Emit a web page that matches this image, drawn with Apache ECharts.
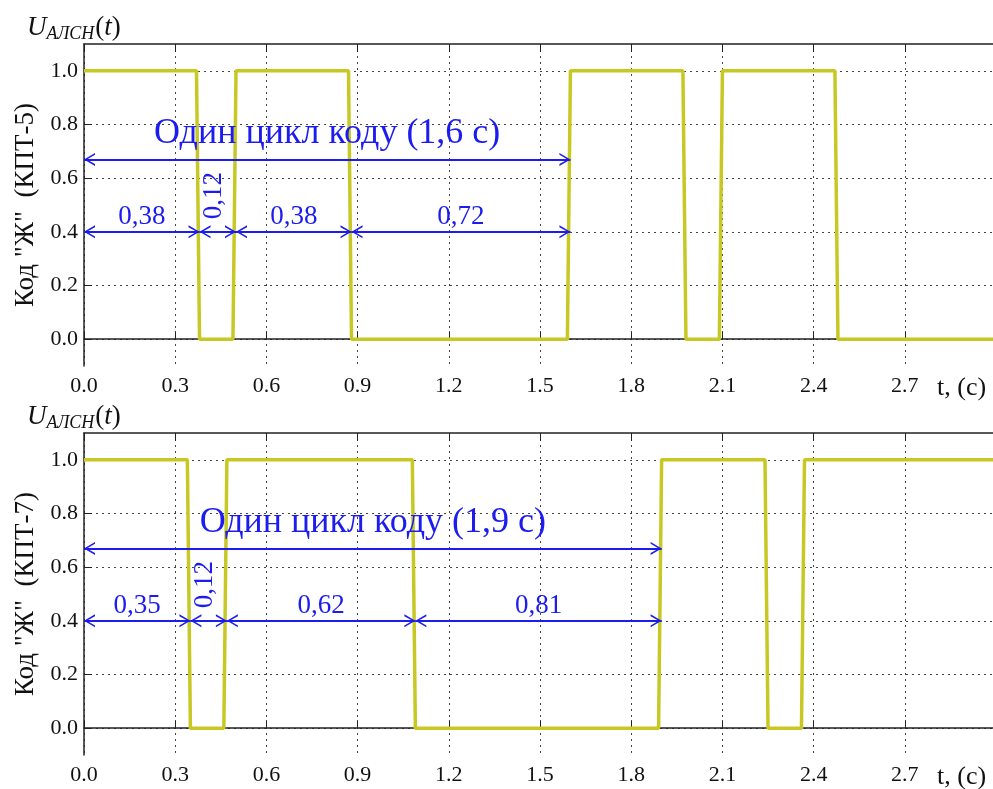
<!DOCTYPE html>
<html>
<head>
<meta charset="utf-8">
<script src="https://cdn.jsdelivr.net/npm/echarts@6/dist/echarts.min.js"></script>
<style>
  html, body { margin: 0; padding: 0; background: #fff; }
  #chart { width: 993px; height: 789px; }
</style>
</head>
<body>
<div id="chart"></div>
<script>
// signal samples, time in seconds
var kpt5Time = [0, 0.37, 0.38, 0.49, 0.50, 0.87, 0.88, 1.59, 1.60, 1.97, 1.98, 2.09, 2.10, 2.47, 2.48, 3.0];
var kpt5Level = [1, 1, 0, 0, 1, 1, 0, 0, 1, 1, 0, 0, 1, 1, 0, 0];
var kpt7Time = [0, 0.34, 0.35, 0.46, 0.47, 1.08, 1.09, 1.89, 1.90, 2.24, 2.25, 2.36, 2.37, 3.0];
var kpt7Level = [1, 1, 0, 0, 1, 1, 0, 0, 1, 1, 0, 0, 1, 1];

// interval boundaries and their labels
var kpt5Bounds = [0, 0.38, 0.50, 0.88, 1.60];
var kpt5Labels = ['0,38', '0,12', '0,38', '0,72'];
var kpt7Bounds = [0, 0.35, 0.47, 1.09, 1.90];
var kpt7Labels = ['0,35', '0,12', '0,62', '0,81'];
var cycleText = ['Один цикл коду (1,6 с)', 'Один цикл коду (1,9 с)'];
var yNames = ['Код "Ж"  (КПТ-5)', 'Код "Ж"  (КПТ-7)'];
var yTicks = [0, 0.2, 0.4, 0.6, 0.8, 1.0];

var serif = '"Liberation Serif", "DejaVu Serif", serif';
var blue = '#1c1cf0';
var sig = '#c8c824';
var dotted = { color: '#444', width: 1, type: [2, 4] };
var chevron = 'path://M0,10 L5,0 L10,10 L8.6,10 L5,2.6 L1.4,10 Z';

var tops = [44, 433];
var plotH = 322;

function buildMarks(bounds, labels, text) {
  var lines = [];
  var points = [];
  for (var i = 0; i < labels.length; i++) {
    lines.push([{ coord: [bounds[i], 0.4] }, { coord: [bounds[i + 1], 0.4] }]);
    var mid = (bounds[i] + bounds[i + 1]) / 2;
    if (i === 1) {
      points.push({ coord: [mid - 0.012, 0.535], value: labels[i], label: { rotate: 90 } });
    } else {
      points.push({ coord: [mid, 0.455], value: labels[i] });
    }
  }
  var end = bounds[bounds.length - 1];
  lines.push([{ coord: [0, 0.67] }, { coord: [end, 0.67] }]);
  points.push({ coord: [end / 2, 0.765], value: text, label: { fontSize: 36 } });
  return { lines: lines, points: points };
}

var grids = [], xAxes = [], yAxes = [], series = [], titles = [];
var sets = [
  { t: kpt5Time, v: kpt5Level, b: kpt5Bounds, l: kpt5Labels },
  { t: kpt7Time, v: kpt7Level, b: kpt7Bounds, l: kpt7Labels }
];

sets.forEach(function(s, k) {
  grids.push({ left: 84, right: 0, top: tops[k], height: plotH, containLabel: false, outerBoundsMode: 'none' });
  xAxes.push({
    type: 'value', gridIndex: k, min: 0, max: 2.99, interval: 0.3,
    axisLine: { lineStyle: { color: '#222', width: 1.5 } },
    axisTick: { inside: true, length: 8, lineStyle: { color: '#222' } },
    axisLabel: { color: '#111', fontFamily: serif, fontSize: 22, margin: 9, showMaxLabel: false,
      formatter: function(v) { return v.toFixed(1); } },
    splitLine: { show: true, lineStyle: dotted }
  });
  xAxes.push({
    type: 'value', gridIndex: k, position: 'top', min: 0, max: 2.99, interval: 0.3,
    axisLine: { lineStyle: { color: '#222', width: 1.5 } },
    axisTick: { inside: true, length: 8, lineStyle: { color: '#222' } },
    axisLabel: { show: false },
    splitLine: { show: false }
  });
  yAxes.push({
    type: 'value', gridIndex: k, min: -0.1, max: 1.1,
    name: yNames[k], nameLocation: 'middle', nameGap: 44,
    nameTextStyle: { color: '#111', fontFamily: serif, fontSize: 27 },
    axisLine: { show: true, lineStyle: { color: '#222', width: 1.5 } },
    axisTick: { show: true, inside: true, length: 8, customValues: yTicks, lineStyle: { color: '#222' } },
    axisLabel: { color: '#111', fontFamily: serif, fontSize: 22, margin: 6, customValues: yTicks,
      formatter: function(v) { return v.toFixed(1); } },
    splitLine: { show: true, lineStyle: dotted }
  });

  var marks = buildMarks(s.b, s.l, cycleText[k]);
  series.push({
    type: 'line', xAxisIndex: k * 2, yAxisIndex: k,
    data: s.t.map(function(t, i) { return [t, s.v[i]]; }),
    showSymbol: false, clip: true,
    lineStyle: { color: sig, width: 3.5 },
    z: 3,
    markLine: {
      silent: true, animation: false,
      symbol: [chevron, chevron], symbolSize: [13, 11],
      symbolOffset: [[0, '50%'], [0, '50%']],
      lineStyle: { color: blue, width: 2, type: 'solid' },
      label: { show: false },
      data: marks.lines
    },
    markPoint: {
      silent: true, animation: false, symbol: 'circle', symbolSize: 0,
      label: { show: true, position: 'inside', color: blue, fontFamily: serif, fontSize: 27,
        formatter: function(p) { return p.value; } },
      data: marks.points
    }
  });

  var base = { fontFamily: serif, fontWeight: 'normal', fontSize: 27, color: '#111', lineHeight: 30 };
  titles.push({
    text: '{u|U}{s|АЛСН}{p|(}{t|t}{p|)}',
    left: 22, top: tops[k] - 36,
    textStyle: {
      fontWeight: 'normal',
      rich: {
        u: Object.assign({}, base, { fontStyle: 'italic' }),
        s: Object.assign({}, base, { fontStyle: 'italic', fontSize: 18, verticalAlign: 'bottom', padding: [9, 1, 0, 0] }),
        p: Object.assign({}, base),
        t: Object.assign({}, base, { fontStyle: 'italic' })
      }
    }
  });
  titles.push({
    text: 't, (c)', left: 932, top: tops[k] + plotH + 4,
    textStyle: { fontFamily: serif, fontSize: 26, fontWeight: 'normal', color: '#111' }
  });
});

var chart = echarts.init(document.getElementById('chart'), null, { renderer: 'canvas' });
chart.setOption({
  animation: false,
  backgroundColor: '#fff',
  title: titles,
  grid: grids,
  xAxis: xAxes,
  yAxis: yAxes,
  series: series
});
window.addEventListener('resize', function() { chart.resize(); });
</script>
</body>
</html>
